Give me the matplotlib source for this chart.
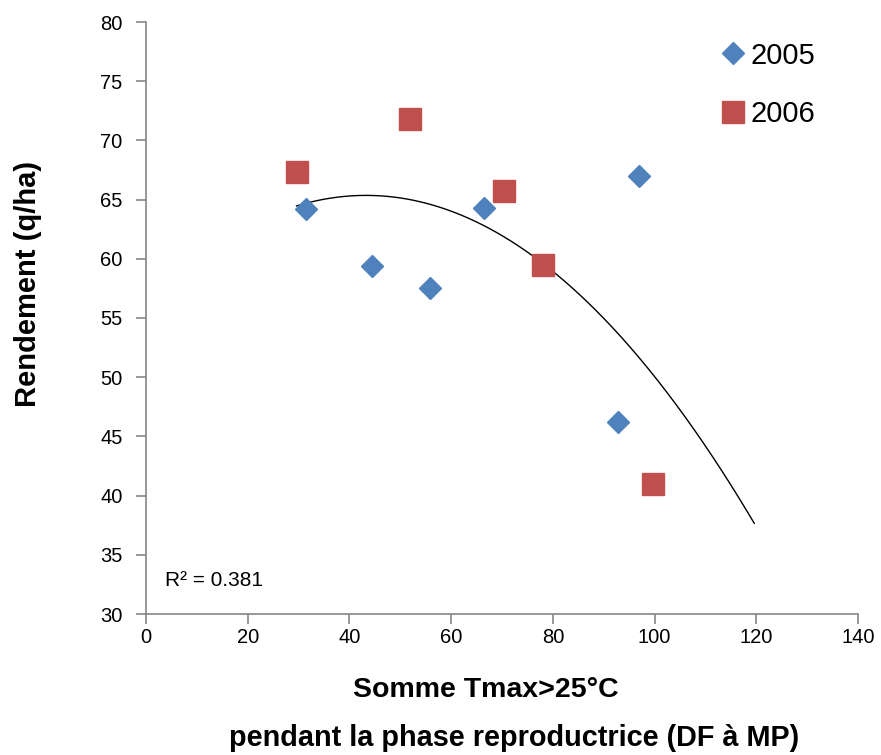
import numpy as np
import matplotlib
matplotlib.use("Agg")
import matplotlib.pyplot as plt

# data
x_2005 = [31.5, 44.5, 55.8, 66.5, 97.0, 92.9]
y_2005 = [64.2, 59.4, 57.5, 64.3, 67.0, 46.2]
x_2006 = [29.6, 51.9, 70.4, 78.1, 99.6]
y_2006 = [67.3, 71.8, 65.7, 59.5, 41.0]
r2_label = "R² = 0.381"
xticks = [0, 20, 40, 60, 80, 100, 120, 140]
yticks = [30, 35, 40, 45, 50, 55, 60, 65, 70, 75, 80]

plt.rcParams['font.family'] = ['Liberation Sans', 'DejaVu Sans']

fig = plt.figure(figsize=(8.81, 7.55), dpi=100)
ax = fig.add_axes([146 / 881, 1 - 614 / 755, 712 / 881, 592 / 755])

ax.plot(x_2005, y_2005, linestyle='none', marker='D', ms=11.2,
        color='#4F81BD', mec='#4F81BD', label='2005', zorder=3)
ax.plot(x_2006, y_2006, linestyle='none', marker='s', ms=15.5,
        color='#C0504D', mec='#C0504D', label='2006', zorder=3)

# polynomial (order 2) trendline on all points, forecast forward 20
x_all = np.array(x_2005 + x_2006)
y_all = np.array(y_2005 + y_2006)
coef = np.polyfit(x_all, y_all, 2)
xt = np.linspace(x_all.min(), x_all.max() + 20, 200)
ax.plot(xt, np.polyval(coef, xt), color='black', lw=1.0, zorder=2)

ax.set_xlim(0, 140)
ax.set_ylim(30, 80)
ax.set_xticks(xticks)
ax.set_yticks(yticks)

for s in ['top', 'right']:
    ax.spines[s].set_visible(False)
for s in ['left', 'bottom']:
    ax.spines[s].set_color('#868686')
    ax.spines[s].set_linewidth(1.2)
ax.tick_params(axis='both', direction='out', length=7, width=1.2,
               color='#868686', labelsize=14.5, labelcolor='black')
ax.tick_params(axis='x', pad=3)
ax.tick_params(axis='y', pad=10)

ax.text(165 / 881, 1 - 580 / 755, r2_label, transform=fig.transFigure,
        fontsize=15, ha='left', va='center')

leg = ax.legend(loc='upper left', bbox_to_anchor=(701 / 881, 1 - 27 / 755),
                bbox_transform=fig.transFigure, frameon=False, fontsize=21,
                labelspacing=1.05, handletextpad=0.0, handlelength=1.2,
                borderpad=0)

fig.text(28 / 881, 1 - 284 / 755, "Rendement (q/ha)", rotation=90,
         fontsize=21, fontweight='bold', ha='center', va='center')
fig.text(486 / 881, 1 - 690 / 755, "Somme Tmax>25°C",
         fontsize=20.5, fontweight='bold', ha='center', va='center')
fig.text(514 / 881, 1 - 738 / 755, "pendant la phase reproductrice (DF à MP)",
         fontsize=20.8, fontweight='bold', ha='center', va='center')

fig.savefig("out.png", dpi=100)
